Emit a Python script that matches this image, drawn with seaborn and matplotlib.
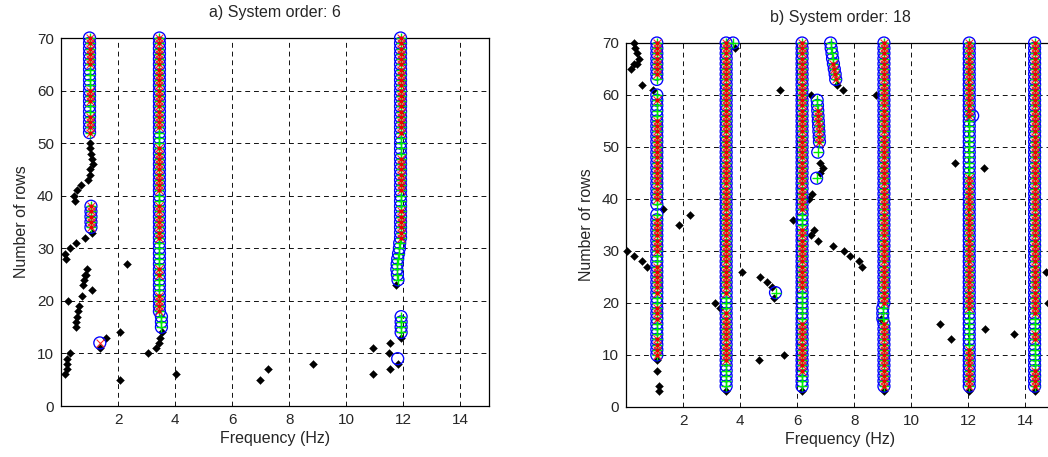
import numpy as np
import pandas as pd
import matplotlib
matplotlib.use("Agg")
import matplotlib.pyplot as plt
import seaborn as sns

# ---------------------------------------------------------------------------
# Stabilization diagram data: frequency (Hz) vs number of block rows.
# Criteria codes for stable poles:
#   'f'   frequency stable                       (blue circle)
#   'fm'  frequency + mode shape stable          (circle + red x)
#   'fd'  frequency + damping stable             (circle + green plus)
#   'all' frequency, damping and mode shape      (circle + plus + x + red dot)
# ---------------------------------------------------------------------------

# ---- a) system order 6 ----------------------------------------------------
# vertical runs of stable poles: (frequency, first row, last row, criteria)
a_runs = [
    (1.00, 52, 55, 'all'), (1.00, 56, 57, 'fd'), (1.00, 58, 60, 'all'),
    (1.00, 61, 64, 'fd'), (1.00, 65, 70, 'all'),
    (1.05, 34, 38, 'all'),
    (3.52, 15, 17, 'fd'), (3.45, 18, 21, 'all'), (3.45, 22, 24, 'fd'),
    (3.45, 25, 26, 'all'), (3.45, 27, 31, 'fd'), (3.45, 32, 38, 'all'),
    (3.45, 39, 40, 'fd'), (3.45, 41, 49, 'all'), (3.45, 50, 52, 'fd'),
    (3.45, 53, 70, 'all'),
    (11.92, 14, 17, 'fd'),
    (11.90, 32, 37, 'all'), (11.90, 38, 40, 'fd'), (11.90, 41, 47, 'all'),
    (11.90, 48, 51, 'fd'), (11.90, 52, 70, 'all'),
]
# single stable poles (frequency, row, criteria)
a_single_freq = [11.81, 11.79, 11.77, 11.78, 11.80, 11.83, 11.86, 11.87, 1.36, 11.80]
a_single_row = [24, 25, 26, 27, 28, 29, 30, 31, 12, 9]
a_single_crit = ['fd', 'fd', 'fd', 'fd', 'fd', 'fd', 'fd', 'fd', 'fm', 'f']
# unstable (new) poles
a_new_freq = [1.01, 1.03, 1.04, 1.09, 1.11, 1.01, 1.03, 0.95, 0.69, 0.56, 0.46, 0.48,
              1.09, 0.85, 0.54, 0.30, 0.13, 0.16, 2.32, 0.91, 0.89, 0.83, 0.80, 0.77,
              1.10, 0.74, 0.25, 0.62, 0.60, 0.56, 0.54, 0.51, 2.08, 1.59, 1.36,
              0.30, 0.22, 0.22, 0.20, 0.15, 2.08,
              3.53, 3.47, 3.44, 3.33, 3.06, 4.04, 6.98, 7.26, 8.84,
              10.94, 11.52, 11.48, 11.81, 11.52, 10.94, 11.92, 11.75]
a_new_row = [50, 49, 48, 47, 46, 45, 44, 43, 42, 41, 40, 39,
             33, 32, 31, 30, 29, 28, 27, 26, 25, 25, 24, 23,
             22, 21, 20, 19, 18, 17, 16, 15, 14, 13, 11,
             10, 9, 8, 7, 6, 5,
             14, 13, 12, 11, 10, 6, 5, 7, 8,
             11, 12, 10, 8, 7, 6, 13, 23]

# ---- b) system order 18 ---------------------------------------------------
b_runs = [
    (1.08, 10, 13, 'all'), (1.08, 14, 16, 'fd'), (1.08, 17, 19, 'all'),
    (1.08, 20, 21, 'fd'), (1.08, 22, 27, 'all'), (1.08, 28, 29, 'fd'),
    (1.08, 30, 36, 'all'), (1.08, 37, 37, 'fd'), (1.08, 39, 39, 'fd'),
    (1.08, 40, 55, 'all'), (1.08, 56, 58, 'fd'), (1.08, 59, 59, 'all'),
    (1.08, 60, 60, 'fd'), (1.08, 63, 63, 'fd'), (1.08, 64, 70, 'all'),
    (3.51, 4, 8, 'fd'), (3.51, 9, 18, 'all'), (3.51, 19, 21, 'fd'),
    (3.51, 22, 70, 'all'),
    (6.17, 4, 6, 'fd'), (6.17, 7, 16, 'all'), (6.17, 17, 22, 'fd'),
    (6.17, 23, 34, 'all'), (6.17, 35, 37, 'fd'), (6.17, 38, 70, 'all'),
    (9.04, 4, 16, 'all'), (9.00, 17, 19, 'fd'), (9.04, 20, 70, 'all'),
    (12.03, 4, 11, 'all'), (12.03, 12, 18, 'fd'), (12.03, 19, 44, 'all'),
    (12.03, 45, 55, 'fd'), (12.03, 56, 70, 'all'),
    (14.32, 4, 7, 'all'), (14.32, 8, 12, 'fd'), (14.32, 13, 14, 'all'),
    (14.32, 15, 17, 'fd'), (14.32, 18, 70, 'all'),
]
b_single_freq = [3.75,
                 7.35, 7.33, 7.30, 7.27, 7.24, 7.22, 7.19, 7.17,
                 6.78, 6.77, 6.76, 6.75, 6.74, 6.73, 6.72, 6.71, 6.70,
                 6.72, 6.68, 5.24, 12.15]
b_single_row = [70,
                63, 64, 65, 66, 67, 68, 69, 70,
                51, 52, 53, 54, 55, 56, 57, 58, 59,
                49, 44, 22, 56]
b_single_crit = ['fd',
                 'all', 'all', 'all', 'all', 'fd', 'fd', 'fd', 'fd',
                 'all', 'all', 'all', 'all', 'all', 'all', 'all', 'fd', 'fd',
                 'fd', 'fd', 'fd', 'f']
b_new_freq = [0.27, 0.33, 0.39, 0.45, 0.39, 0.27, 0.19, 0.56, 0.94,
              1.31, 2.23, 1.87, 0.05, 0.29, 0.55, 0.75,
              3.13, 3.30, 4.07, 4.71, 4.95, 5.12, 5.18, 4.65, 5.53,
              1.08, 1.08, 1.17, 1.17, 3.83,
              5.41, 6.49, 7.38, 7.62, 8.75,
              6.79, 6.91, 6.79, 6.53, 6.41,
              5.86, 6.59, 6.47, 6.73, 7.27, 7.64, 7.85, 8.17, 8.26,
              8.93, 10.99, 11.39, 11.53, 12.56, 12.58, 13.59, 14.73, 14.79,
              3.51, 6.17, 9.04, 12.03, 14.32]
b_new_row = [70, 69, 68, 67, 66, 66, 65, 62, 61,
             38, 37, 35, 30, 29, 28, 27,
             20, 19, 26, 25, 24, 23, 21, 9, 10,
             9, 7, 4, 3, 69,
             61, 60, 62, 61, 60,
             47, 46, 45, 41, 40,
             36, 34, 33, 32, 31, 30, 29, 28, 27,
             17, 16, 13, 47, 46, 15, 14, 26, 20,
             3, 3, 3, 3, 3]

titles = ["a) System order: 6", "b) System order: 18"]
x_ticks = [2, 4, 6, 8, 10, 12, 14]
y_ticks = [0, 10, 20, 30, 40, 50, 60, 70]


def stable_frame(runs, s_freq, s_row, s_crit):
    recs = []
    for f, r0, r1, c in runs:
        for r in range(r0, r1 + 1):
            recs.append((f, r, c))
    recs += list(zip(s_freq, s_row, s_crit))
    return pd.DataFrame(recs, columns=["freq", "rows", "crit"])


sns.set_style("white")
plt.rcParams["font.family"] = ["Liberation Sans", "DejaVu Sans"]

fig = plt.figure(figsize=(10.48, 4.57), dpi=100)
ax_a = fig.add_axes([61 / 1048, 51 / 457, 428 / 1048, 368 / 457])
ax_b = fig.add_axes([626 / 1048, 50 / 457, 428 / 1048, 364 / 457])

panels = [
    (ax_a, stable_frame(a_runs, a_single_freq, a_single_row, a_single_crit),
     pd.DataFrame({"freq": a_new_freq, "rows": a_new_row})),
    (ax_b, stable_frame(b_runs, b_single_freq, b_single_row, b_single_crit),
     pd.DataFrame({"freq": b_new_freq, "rows": b_new_row})),
]

for (ax, st, new), title in zip(panels, titles):
    # unstable poles
    sns.scatterplot(data=new, x="freq", y="rows", ax=ax, marker="D", s=16,
                    color="black", edgecolor="black", linewidth=0.3,
                    zorder=3, legend=False, clip_on=False)
    # frequency stable
    sns.scatterplot(data=st, x="freq", y="rows", ax=ax, marker="o", s=74,
                    facecolors="none", edgecolor="#0000ff", linewidth=0.95,
                    zorder=4, legend=False, clip_on=False)
    # damping stable
    d = st[st["crit"].isin(["fd", "all"])]
    sns.scatterplot(data=d, x="freq", y="rows", ax=ax, marker="+", s=62,
                    color="#00ee00", linewidth=1.0, zorder=5, legend=False,
                    clip_on=False)
    # mode shape stable
    m = st[st["crit"].isin(["fm", "all"])]
    sns.scatterplot(data=m, x="freq", y="rows", ax=ax, marker="x", s=32,
                    color="#ff2020", linewidth=0.75, zorder=6, legend=False,
                    clip_on=False)
    # all criteria met
    a = st[st["crit"] == "all"]
    sns.scatterplot(data=a, x="freq", y="rows", ax=ax, marker="o", s=9,
                    color="#ee0000", edgecolor="#ee0000", linewidth=0,
                    zorder=7, legend=False, clip_on=False)

    ax.set_xlim(0, 15)
    ax.set_ylim(0, 70)
    ax.set_xticks(x_ticks)
    ax.set_yticks(y_ticks)
    ax.set_xticklabels([str(t) for t in x_ticks])
    ax.set_yticklabels([str(t) for t in y_ticks])
    ax.grid(True, color="#111111", linestyle=(0, (5, 4)), linewidth=0.7)
    ax.set_axisbelow(True)
    ax.tick_params(direction="in", length=3, labelsize=11, pad=5,
                   top=False, right=False)
    for sp in ax.spines.values():
        sp.set_visible(True)
        sp.set_color("black")
        sp.set_linewidth(0.9)
    ax.set_xlabel("Frequency (Hz)", fontsize=11.5, labelpad=3)
    ax.set_ylabel("Number of rows", fontsize=11.5, labelpad=6)
    ax.set_title(title, fontsize=11.5, pad=15)

fig.savefig("out.png", dpi=100)
